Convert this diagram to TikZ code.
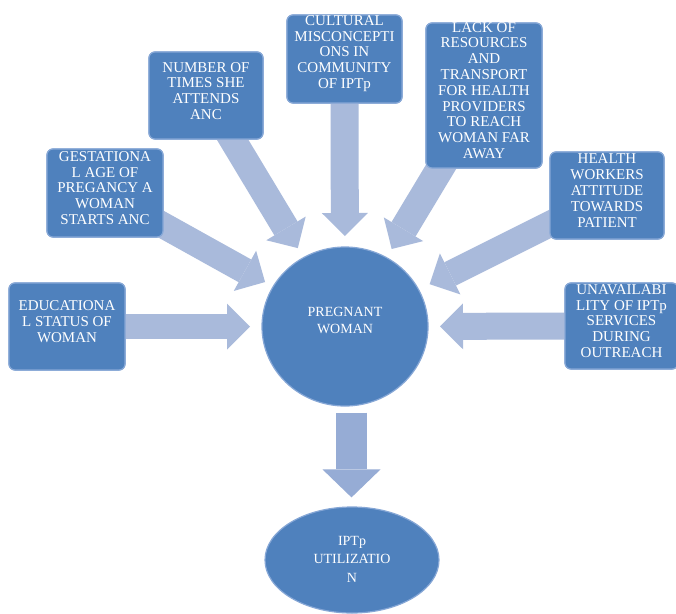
\documentclass[tikz,border=0pt]{standalone}
\usepackage{fontspec}
\setmainfont{Liberation Serif}
\usetikzlibrary{arrows.meta,shapes.geometric}
\definecolor{boxblue}{HTML}{4F81BD}
\definecolor{boxrim}{HTML}{86A7D6}
\definecolor{arrowc}{HTML}{A9BADB}
\definecolor{arrowd}{HTML}{96ACD5}
\tikzset{
  factor/.style={draw=boxrim, line width=1.2pt, fill=boxblue, rounded corners=6pt, inner sep=0pt},
  txt/.style={text=white, align=center, inner sep=0pt, font=\fontsize{15}{15.8}\selectfont},
  ctxt/.style={text=white, align=center, inner sep=0pt, font=\fontsize{14}{17.5}\selectfont},
  fat/.style={draw=arrowc, line width=#1, -{Triangle[length=23pt, width=46pt, line width=0pt]}},
}
\begin{document}
\begin{tikzpicture}[x=1pt, y=-1pt]
\fill[white] (0,0) rectangle (676,613);
\useasboundingbox (0,0) rectangle (676,613);

% shapes (drawn first as positions for arrows)
\path
  (67,326.5)   node[factor, minimum width=116pt, minimum height=87pt]  (edu) {}
  (105,193)    node[factor, minimum width=116pt, minimum height=88pt]  (gest) {}
  (206,95.5)   node[factor, minimum width=114pt, minimum height=87pt]  (num) {}
  (344.5,59)   node[factor, minimum width=115pt, minimum height=88pt]  (cult) {}
  (484,95.5)   node[factor, minimum width=116pt, minimum height=145pt] (lack) {}
  (607,195.5)  node[factor, minimum width=114pt, minimum height=87pt]  (health) {}
  (621.5,326)  node[factor, minimum width=113pt, minimum height=86pt]  (unav) {}
  (345,326.5)  coordinate (pwc)
  (352,560)    coordinate (ipc);

% arrows
\draw[fat=25pt, shorten >=95pt]   (edu.center)    -- (pwc);
\draw[fat=26pt, shorten >=91.5pt] (gest.center)   -- (pwc);
\draw[fat=27pt, shorten >=91.5pt] (num.center)    -- (pwc);
\draw[fat=28pt, shorten >=90.5pt] (cult.center)   -- (pwc);
\draw[fat=28pt, shorten >=90.5pt] (lack.center)   -- (pwc);
\draw[fat=26pt, shorten >=94.6pt] (health.center) -- (pwc);
\draw[fat=27pt, shorten >=95pt]   (unav.center)   -- (pwc);

% boxes on top
\path
  (67,326.5)   node[factor, minimum width=116pt, minimum height=87pt]  (edu2) {}
  (105,193)    node[factor, minimum width=116pt, minimum height=88pt]  (gest2) {}
  (206,95.5)   node[factor, minimum width=114pt, minimum height=87pt]  (num2) {}
  (344.5,59)   node[factor, minimum width=115pt, minimum height=88pt]  (cult2) {}
  (484,95.5)   node[factor, minimum width=116pt, minimum height=145pt] (lack2) {}
  (607,195.5)  node[factor, minimum width=114pt, minimum height=87pt]  (health2) {}
  (621.5,326)  node[factor, minimum width=113pt, minimum height=86pt]  (unav2) {};

\node[ellipse, draw=boxrim, line width=1.2pt, fill=boxblue, minimum width=166pt, minimum height=159pt, inner sep=0pt] (pw) at (pwc) {};
\node[ellipse, draw=boxrim, line width=1.2pt, fill=boxblue, minimum width=174pt, minimum height=106pt, inner sep=0pt] (ip) at (ipc) {};

\draw[draw=arrowd, line width=31pt, shorten <=6pt, shorten >=9pt,
  -{Triangle[length=28pt, width=58pt, line width=0pt]}] ([xshift=-0.5pt]pw.south -| ip.north) -- ([xshift=-0.5pt]ip.north);

% texts
\node[txt] (t1) at ([yshift=5pt]edu2.center) {EDUCATIONA\\L STATUS OF\\WOMAN};
\node[txt] (t2) at ([yshift=5pt]gest2.center) {GESTATIONA\\L AGE OF\\PREGANCY A\\WOMAN\\STARTS ANC};
\node[txt] (t3) at ([yshift=4.5pt]num2.center) {NUMBER OF\\TIMES SHE\\ATTENDS\\ANC};
\node[txt] (t4) at ([yshift=5.5pt]cult2.center) {CULTURAL\\MISCONCEPTI\\ONS IN\\COMMUNITY\\OF IPTp};
\node[txt] (t5) at ([yshift=5pt]lack2.center) {LACK OF\\RESOURCES\\AND\\TRANSPORT\\FOR HEALTH\\PROVIDERS\\TO REACH\\WOMAN FAR\\AWAY};
\node[txt] (t6) at ([yshift=5pt]health2.center) {HEALTH\\WORKERS\\ATTITUDE\\TOWARDS\\PATIENT};
\node[txt] (t7) at ([yshift=5pt]unav2.center) {UNAVAILABI\\LITY OF IPTp\\SERVICES\\DURING\\OUTREACH};
\node[ctxt] (t8) at ([yshift=6pt]pw.center) {PREGNANT\\WOMAN};
\node[ctxt, font=\fontsize{14}{18.5}\selectfont] (t9) at ([yshift=1pt]ip.center) {IPTp\\UTILIZATIO\\N};
\end{tikzpicture}
\end{document}
